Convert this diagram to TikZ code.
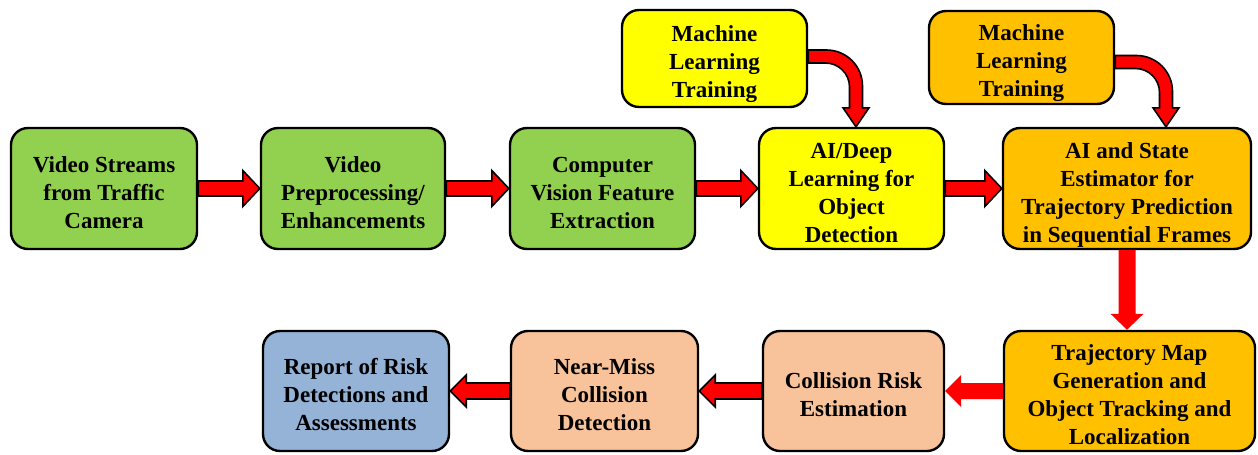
\documentclass[tikz,border=0pt]{standalone}
\usepackage{fontspec}
\setmainfont{Liberation Serif}
\usetikzlibrary{calc}
\definecolor{cgreen}{HTML}{92D050}
\definecolor{cyellow}{HTML}{FFFF00}
\definecolor{corange}{HTML}{FFC000}
\definecolor{cpeach}{HTML}{F8C39A}
\definecolor{cblue}{HTML}{95B3D7}
\definecolor{cred}{HTML}{FF0000}
\newcommand{\tstrut}{\rule{0pt}{28pt}}
\tikzset{
  box/.style={draw=black, line width=2.4pt, rounded corners=17pt, align=center,
    font=\bfseries\fontsize{23}{28}\selectfont, inner sep=0pt,
    execute at end node={\rule[-5pt]{0pt}{5pt}}},
  fatarrow/.style={fill=cred, draw=black, line width=1.6pt, line join=miter},
  plainarrow/.style={fill=cred, draw=none},
}
% right arrow from #2 (start anchor) to #3 (end anchor)
\newcommand{\rightfat}[3]{\path[#1] let \p1=(#2), \p2=(#3) in
  (\x1,\y1+7.5pt) -- (\x2-17pt,\y1+7.5pt) -- (\x2-17pt,\y1+18pt) -- (\x2,\y1)
  -- (\x2-17pt,\y1-18pt) -- (\x2-17pt,\y1-7.5pt) -- (\x1,\y1-7.5pt) -- cycle;}
\newcommand{\leftfat}[3]{\path[#1] let \p1=(#2), \p2=(#3) in
  (\x1,\y1+8pt) -- (\x2+16pt,\y1+8pt) -- (\x2+16pt,\y1+16pt) -- (\x2,\y1)
  -- (\x2+16pt,\y1-16pt) -- (\x2+16pt,\y1-8pt) -- (\x1,\y1-8pt) -- cycle;}
\newcommand{\downfat}[3]{\path[#1] let \p1=(#2), \p2=(#3) in
  (\x1-8.5pt,\y1) -- (\x1-8.5pt,\y2+16pt) -- (\x1-16.5pt,\y2+16pt) -- (\x1,\y2)
  -- (\x1+16.5pt,\y2+16pt) -- (\x1+8.5pt,\y2+16pt) -- (\x1+8.5pt,\y1) -- cycle;}
\newcommand{\curvefat}[3]{\path[#1] let \p1=(#2), \p2=(#3) in
  (\x1,\y1+6.5pt) [rounded corners=36pt]-- (\x2+6.5pt,\y1+6.5pt) [sharp corners]--
  (\x2+6.5pt,\y2+19pt) -- (\x2+13pt,\y2+19pt) -- (\x2,\y2) -- (\x2-13pt,\y2+19pt)
  -- (\x2-6.5pt,\y2+19pt) [rounded corners=24pt]-- (\x2-6.5pt,\y1-6.5pt) [sharp corners]--
  (\x1,\y1-6.5pt) -- cycle;}
\begin{document}
\begin{tikzpicture}[x=1pt,y=-1pt]
\useasboundingbox (0,0) rectangle (1258,455);
% top row
\node[box, fill=cgreen, minimum width=186, minimum height=121] (v1) at (104,188.5) {\tstrut Video Streams\\from Traffic\\Camera};
\node[box, fill=cgreen, minimum width=184, minimum height=121] (v2) at (353,188.5) {\tstrut Video\\Preprocessing/\\Enhancements};
\node[box, fill=cgreen, minimum width=185, minimum height=121] (v3) at (602.5,188.5) {\tstrut Computer\\Vision Feature\\Extraction};
\node[box, fill=cyellow, minimum width=185, minimum height=121] (v4) at (851.5,188.5) {\tstrut AI/Deep\\Learning for\\Object\\Detection};
\node[box, fill=corange, minimum width=248, minimum height=121] (v5) at (1127,188.5) {\tstrut AI and State\\Estimator for\\Trajectory Prediction\\in Sequential Frames};
% training boxes
\node[box, fill=cyellow, minimum width=185, minimum height=97] (ml1) at (714.5,58.5) {\tstrut Machine\\Learning\\Training};
\node[box, fill=corange, minimum width=185, minimum height=93] (ml2) at (1021.5,57.5) {\tstrut Machine\\Learning\\Training};
% bottom row
\node[box, fill=corange, minimum width=251, minimum height=120] (b1) at (1129.5,391) {\tstrut Trajectory Map\\Generation and\\Object Tracking and\\Localization};
\node[box, fill=cpeach, minimum width=181, minimum height=120] (b2) at (853.5,391) {\tstrut Collision Risk\\Estimation};
\node[box, fill=cpeach, minimum width=187, minimum height=120] (b3) at (604.5,391) {\tstrut Near-Miss\\Collision\\Detection};
\node[box, fill=cblue, minimum width=186, minimum height=120] (b4) at (356,391) {\tstrut Report of Risk\\Detections and\\Assessments};
% arrows
\rightfat{fatarrow}{v1.east}{v2.west}
\rightfat{fatarrow}{v2.east}{v3.west}
\rightfat{fatarrow}{v3.east}{v4.west}
\rightfat{fatarrow}{v4.east}{v5.west}
\curvefat{fatarrow}{$(ml1.east)+(0,-2)$}{$(v4.north)+(4.5,0)$}
\curvefat{fatarrow}{$(ml2.east)+(0,4.5)$}{$(v5.north)+(39,0)$}
\downfat{plainarrow}{v5.south}{b1.north}
\leftfat{plainarrow}{b1.west}{b2.east}
\leftfat{fatarrow}{b2.west}{b3.east}
\leftfat{fatarrow}{b3.west}{b4.east}
\end{tikzpicture}
\end{document}
